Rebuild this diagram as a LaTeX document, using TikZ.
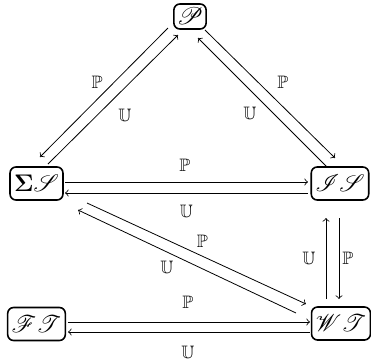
\documentclass[tikz,border=0pt]{standalone}
\usepackage{amsmath,amssymb}
\usepackage{mathrsfs}
\tikzset{
  obj/.style={draw, thick, rounded corners=3pt, inner sep=2pt, font=\large, minimum height=16.5pt},
  lbl/.style={font=\small, inner sep=0pt},
  arr/.style={->}
}
\begin{document}
\begin{tikzpicture}[x=0.5pt,y=-0.5pt]
  \useasboundingbox (0,0) rectangle (371,360);

  % Objetos
  \node[obj, inner sep=1.5pt, minimum height=12.5pt] (P) at (190,16.5) {$\mathscr{P}$};
  \node[obj] (SS) at (36.5,183.5) {$\mathbf{\Sigma}\mathscr{S}$};
  \node[obj] (IS) at (340,183.5)  {$\mathscr{I}\mathscr{S}$};
  \node[obj] (FT) at (36.5,324)   {$\mathscr{F}\mathscr{T}$};
  \node[obj] (WT) at (341,323.5)  {$\mathscr{W}\mathscr{T}$};

  % Lado izquierdo
  \draw[arr] ([shift={(-22,11.5)}]P.center) -- ([shift={(3.5,-26.5)}]SS.center)
    node[lbl, midway, shift={(-7,-10.5)}] (l1) {$\mathbb{P}$};
  \draw[arr] ([shift={(11.5,-19.5)}]SS.center) -- ([shift={(-12,18.5)}]P.center)
    node[lbl, midway, shift={(12,15.5)}] (l2) {$\mathbb{U}$};

  % Lado derecho
  \draw[arr] ([shift={(15,13.5)}]P.center) -- ([shift={(-5,-25.5)}]IS.center)
    node[lbl, midway, shift={(13,-12)}] (l3) {$\mathbb{P}$};
  \draw[arr] ([shift={(-13,-16.5)}]IS.center) -- ([shift={(8,21.5)}]P.center)
    node[lbl, midway, shift={(-12.5,10.5)}] (l4) {$\mathbb{U}$};

  % Centro
  \draw[arr] ([shift={(28.5,-1.5)}]SS.center) -- ([shift={(-32,-1.5)}]IS.center)
    node[lbl, midway, shift={(-1.5,-17)}] (l5) {$\mathbb{P}$};
  \draw[arr] ([shift={(-32,9.5)}]IS.center) -- ([shift={(28.5,9.5)}]SS.center)
    node[lbl, midway, shift={(0,18)}] (l6) {$\mathbb{U}$};

  % Diagonal
  \draw[arr] ([shift={(50.5,19.5)}]SS.center) -- ([shift={(-35,-19.5)}]WT.center)
    node[lbl, midway, shift={(6,-12)}] (l7) {$\mathbb{P}$};
  \draw[arr] ([shift={(-45,-10.5)}]WT.center) -- ([shift={(41.5,26.5)}]SS.center)
    node[lbl, midway, shift={(-20,6)}] (l8) {$\mathbb{U}$};

  % Vertical
  \draw[arr] ([shift={(-1,34.5)}]IS.center) -- ([shift={(-2,-24.5)}]WT.center)
    node[lbl, midway, shift={(9,0)}] (l9) {$\mathbb{P}$};
  \draw[arr] ([shift={(-15,-24.5)}]WT.center) -- ([shift={(-14,34.5)}]IS.center)
    node[lbl, midway, shift={(-17,0)}] (l10) {$\mathbb{U}$};

  % Abajo
  \draw[arr] ([shift={(31.5,-2)}]FT.center) -- ([shift={(-31,-1.5)}]WT.center)
    node[lbl, midway, shift={(-1,-20)}] (l11) {$\mathbb{P}$};
  \draw[arr] ([shift={(-31,8.5)}]WT.center) -- ([shift={(31.5,8)}]FT.center)
    node[lbl, midway, shift={(-1,20)}] (l12) {$\mathbb{U}$};
\end{tikzpicture}
\end{document}
